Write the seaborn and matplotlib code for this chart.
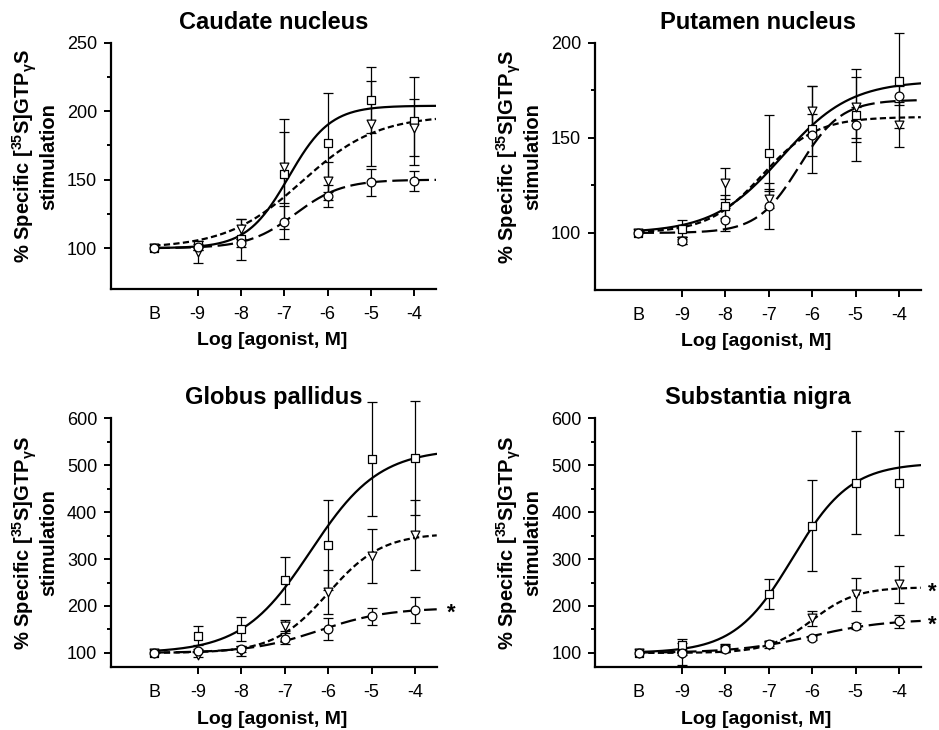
import numpy as np
import matplotlib
matplotlib.use("Agg")
import matplotlib.pyplot as plt
import seaborn as sns

# dose positions (B = basal, then log molar)
dose_x = [-10, -9, -8, -7, -6, -5, -4]
dose_labels = ["B", "-9", "-8", "-7", "-6", "-5", "-4"]

# --- Caudate nucleus
caudate_sq = [100, 102, 106.5, 154, 177, 208, 193]
caudate_sq_err = [0, 3, 15, 40, 36, 24, 32]
caudate_tri = [100, 97, 114, 159, 149, 191, 188]
caudate_tri_err = [0, 8, 7, 26, 14, 31, 21]
caudate_circ = [100, 101, 104, 119, 138, 148, 149]
caudate_circ_err = [0, 2, 3, 12, 8, 10, 7]
# fitted curves: bottom, top, logEC50, hill slope
caudate_fit = [(100, 204, -6.9, 0.9), (100, 197, -6.6, 0.5), (100, 150, -6.75, 0.8)]

# --- Putamen nucleus
putamen_sq = [100, 102, 114, 142, 154.5, 162, 180]
putamen_sq_err = [0, 5, 6, 20, 23, 24, 25]
putamen_tri = [100, 96, 126, 118, 164, 166, 157]
putamen_tri_err = [0, 2, 8, 5, 13, 16, 12]
putamen_circ = [100, 96, 107, 114, 151.5, 157, 172]
putamen_circ_err = [0, 2, 6, 12, 11, 9, 5]
putamen_fit = [(100, 180, -6.7, 0.55), (100, 161, -7.15, 0.7), (100, 170, -6.3, 0.9)]

# --- Globus pallidus
globus_sq = [100, 137, 151, 255, 330, 513, 515]
globus_sq_err = [0, 20, 26, 50, 96, 122, 121]
globus_tri = [100, 96, 104, 158, 230, 307, 351]
globus_tri_err = [0, 5, 10, 12, 47, 58, 74]
globus_circ = [100, 105, 108, 130, 151, 178, 192]
globus_circ_err = [0, 4, 6, 12, 24, 18, 28]
globus_fit = [(100, 535, -6.4, 0.55), (100, 355, -6.0, 0.7), (100, 196, -6.2, 0.55)]

# --- Substantia nigra
nigra_sq = [100, 117, 110, 225, 371, 463, 462]
nigra_sq_err = [0, 12, 8, 32, 97, 110, 111]
nigra_tri = [100, 98, 108, 117, 174, 225, 246]
nigra_tri_err = [0, 24, 6, 6, 16, 35, 40]
nigra_circ = [100, 100, 108, 120, 132, 158, 167]
nigra_circ_err = [0, 5, 4, 5, 5, 6, 14]
nigra_fit = [(100, 505, -6.45, 0.65), (100, 240, -6.0, 0.85), (100, 172, -6.0, 0.5)]

sns.set_style("ticks")
plt.rcParams["font.family"] = ["Liberation Sans", "DejaVu Sans"]
plt.rcParams["mathtext.default"] = "regular"
for key in ["text.color", "axes.labelcolor", "xtick.color", "ytick.color", "axes.edgecolor"]:
    plt.rcParams[key] = "black"

markers = ["s", "v", "o"]
styles = ["-", (0, (2.8, 1.5)), (0, (7, 2.5))]

ylabel = "% Specific [$^{35}$S]GTP$_{\\gamma}$S\nstimulation"


def draw_panel(ax, title, series, fits, ylim, major, minor, label_y, star_x, stars):
    xs = np.linspace(-10, -3.5, 300)
    for (mean, err), (bot, top, ec50, hill), m, ls in zip(series, fits, markers, styles):
        ys = bot + (top - bot) / (1 + 10 ** ((ec50 - xs) * hill))
        sns.lineplot(x=xs, y=ys, ax=ax, color="black", lw=1.6, linestyle=ls,
                     estimator=None, sort=False, zorder=2)
        eb = ax.errorbar(dose_x[1:], mean[1:], yerr=err[1:], fmt="none", ecolor="black",
                         elinewidth=0.9, capsize=3.5, capthick=0.9, zorder=3)
        for child in eb.get_children():
            child.set_clip_on(False)
        sns.scatterplot(x=dose_x, y=mean, ax=ax, marker=m, s=40, color="white",
                        edgecolor="black", linewidth=0.9, zorder=4)

    ax.set_xlim(-11, -3.5)
    ax.set_ylim(*ylim)
    ax.set_xticks(dose_x)
    ax.set_xticklabels(dose_labels)
    ax.xaxis.get_major_ticks()[0].tick1line.set_visible(False)
    ax.set_yticks(major)
    ax.set_yticks(minor, minor=True)
    ax.tick_params(axis="both", which="major", length=5, width=1.4, labelsize=13)
    ax.tick_params(axis="y", which="minor", length=3, width=1.4)
    ax.tick_params(axis="x", pad=7)
    ax.tick_params(axis="y", pad=5)
    sns.despine(ax=ax)
    for s in ["left", "bottom"]:
        ax.spines[s].set_linewidth(1.6)

    ax.set_title(title, fontsize=17, fontweight="bold", pad=10)
    ax.set_xlabel("Log [agonist, M]", fontsize=14, fontweight="bold")
    ax.set_ylabel(ylabel, fontsize=14.5, fontweight="bold", linespacing=1.0)
    ax.xaxis.set_label_coords(0.495, -0.175)
    ax.yaxis.set_label_coords(-0.163, label_y)

    for sy in stars:
        ax.text(star_x, sy, "*", fontsize=16, fontweight="bold", ha="center",
                va="center", clip_on=False)


fig = plt.figure(figsize=(9.39, 7.3), dpi=100)
ax1 = fig.add_axes([0.1182, 0.6037, 0.3461, 0.3378])
ax2 = fig.add_axes([0.6337, 0.6027, 0.3469, 0.3388])
ax3 = fig.add_axes([0.1182, 0.0863, 0.3469, 0.3407])
ax4 = fig.add_axes([0.6340, 0.0863, 0.3465, 0.3407])

draw_panel(ax1, "Caudate nucleus",
           [(caudate_sq, caudate_sq_err), (caudate_tri, caudate_tri_err), (caudate_circ, caudate_circ_err)],
           caudate_fit, (70, 250), [100, 150, 200, 250], [125, 175, 225], 0.54, -3.17, [])
draw_panel(ax2, "Putamen nucleus",
           [(putamen_sq, putamen_sq_err), (putamen_tri, putamen_tri_err), (putamen_circ, putamen_circ_err)],
           putamen_fit, (70, 200), [100, 150, 200], [125, 175], 0.54, -3.17, [])
draw_panel(ax3, "Globus pallidus",
           [(globus_sq, globus_sq_err), (globus_tri, globus_tri_err), (globus_circ, globus_circ_err)],
           globus_fit, (70, 600), [100, 200, 300, 400, 500, 600], [150, 250, 350, 450, 550], 0.5, -3.17, [184])
draw_panel(ax4, "Substantia nigra",
           [(nigra_sq, nigra_sq_err), (nigra_tri, nigra_tri_err), (nigra_circ, nigra_circ_err)],
           nigra_fit, (70, 600), [100, 200, 300, 400, 500, 600], [150, 250, 350, 450, 550], 0.5, -3.23, [230, 160])

fig.savefig("out.png", dpi=100, facecolor="white")
